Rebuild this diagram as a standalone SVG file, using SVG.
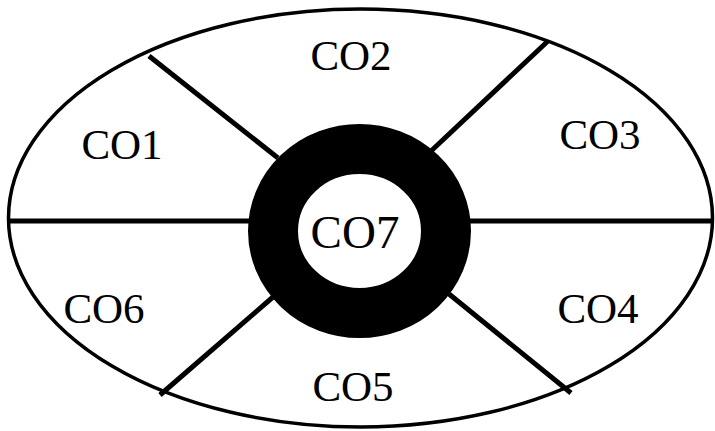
<svg xmlns="http://www.w3.org/2000/svg" width="715" height="431" viewBox="0 0 715 431">
<style>
.lbl{font-family:"Liberation Serif","Times New Roman",serif;font-size:43px;fill:#000;text-anchor:middle}
.sp{stroke:#000;stroke-width:5;fill:none;stroke-linecap:butt}
</style>
<rect width="715" height="431" fill="#fff"/>
<g id="outer">
<ellipse cx="360.5" cy="218" rx="352" ry="209" fill="#fff" stroke="#000" stroke-width="3.5"/>
</g>
<g id="connectors">
<line class="sp" x1="149" y1="56" x2="278" y2="158"/>
<line class="sp" x1="548" y1="41" x2="430" y2="152"/>
<line class="sp" x1="9" y1="221" x2="250" y2="221"/>
<line class="sp" x1="470" y1="221" x2="714" y2="221"/>
<line class="sp" x1="160" y1="395" x2="273" y2="297"/>
<line class="sp" x1="571" y1="393" x2="449" y2="294"/>
</g>
<g id="CO1"><text class="lbl" x="122" y="159">CO1</text></g>
<g id="CO2"><text class="lbl" x="351" y="70">CO2</text></g>
<g id="CO3"><text class="lbl" x="600" y="149">CO3</text></g>
<g id="CO4"><text class="lbl" x="598" y="323">CO4</text></g>
<g id="CO5"><text class="lbl" x="353" y="401">CO5</text></g>
<g id="CO6"><text class="lbl" x="104" y="323">CO6</text></g>
<g id="CO7">
<ellipse cx="359.5" cy="231" rx="86.5" ry="82" fill="#fff" stroke="#000" stroke-width="50"/>
<text class="lbl" x="355" y="248" style="font-size:47px">CO7</text>
</g>
</svg>
